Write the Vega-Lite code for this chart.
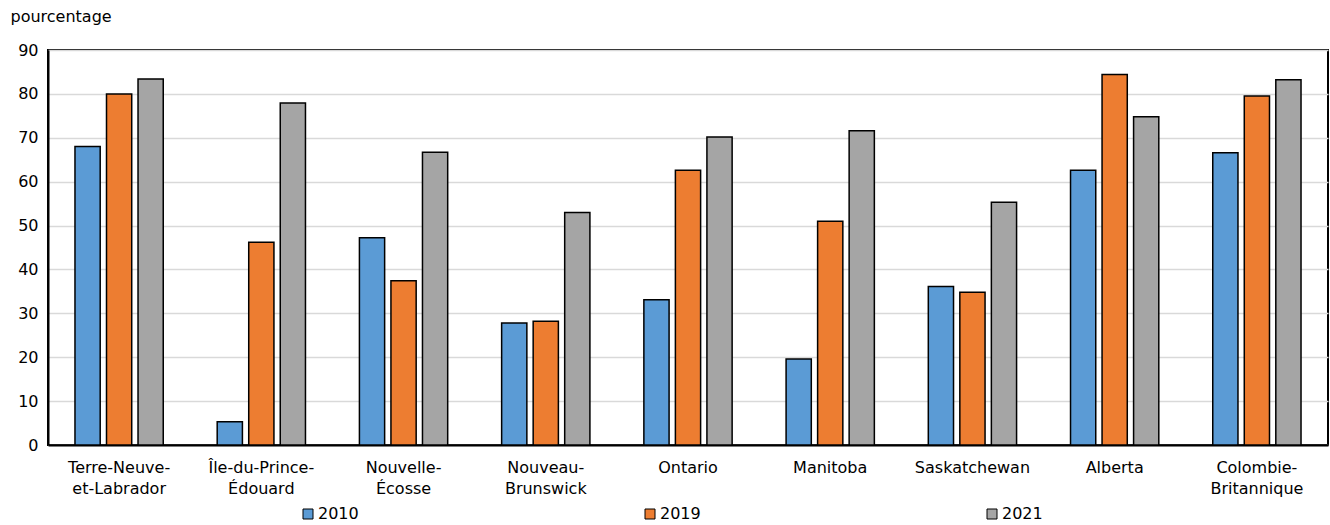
{
  "$schema": "https://vega.github.io/schema/vega-lite/v6.json",
  "width": 1280,
  "height": 395,
  "autosize": {"type": "none"},
  "padding": {"left": 48, "top": 50, "right": 2, "bottom": 80},
  "background": "white",
  "config": {
    "font": "DejaVu Sans",
    "view": {"stroke": "black", "strokeWidth": 2},
    "axis": {"labelFont": "DejaVu Sans", "labelFontSize": 16, "labelColor": "black", "titleFont": "DejaVu Sans"}
  },
  "data": {
    "values": [
      {"province": "Terre-Neuve-et-Labrador", "annee": "2010", "pct": 68.0},
      {"province": "Terre-Neuve-et-Labrador", "annee": "2019", "pct": 80.0},
      {"province": "Terre-Neuve-et-Labrador", "annee": "2021", "pct": 83.4},
      {"province": "Île-du-Prince-Édouard", "annee": "2010", "pct": 5.3},
      {"province": "Île-du-Prince-Édouard", "annee": "2019", "pct": 46.2},
      {"province": "Île-du-Prince-Édouard", "annee": "2021", "pct": 77.9},
      {"province": "Nouvelle-Écosse", "annee": "2010", "pct": 47.2},
      {"province": "Nouvelle-Écosse", "annee": "2019", "pct": 37.4},
      {"province": "Nouvelle-Écosse", "annee": "2021", "pct": 66.7},
      {"province": "Nouveau-Brunswick", "annee": "2010", "pct": 27.8},
      {"province": "Nouveau-Brunswick", "annee": "2019", "pct": 28.2},
      {"province": "Nouveau-Brunswick", "annee": "2021", "pct": 53.0},
      {"province": "Ontario", "annee": "2010", "pct": 33.1},
      {"province": "Ontario", "annee": "2019", "pct": 62.6},
      {"province": "Ontario", "annee": "2021", "pct": 70.2},
      {"province": "Manitoba", "annee": "2010", "pct": 19.6},
      {"province": "Manitoba", "annee": "2019", "pct": 51.0},
      {"province": "Manitoba", "annee": "2021", "pct": 71.6},
      {"province": "Saskatchewan", "annee": "2010", "pct": 36.1},
      {"province": "Saskatchewan", "annee": "2019", "pct": 34.8},
      {"province": "Saskatchewan", "annee": "2021", "pct": 55.3},
      {"province": "Alberta", "annee": "2010", "pct": 62.6},
      {"province": "Alberta", "annee": "2019", "pct": 84.4},
      {"province": "Alberta", "annee": "2021", "pct": 74.8},
      {"province": "Colombie-Britannique", "annee": "2010", "pct": 66.6},
      {"province": "Colombie-Britannique", "annee": "2019", "pct": 79.5},
      {"province": "Colombie-Britannique", "annee": "2021", "pct": 83.2}
    ]
  },
  "mark": {"type": "bar", "stroke": "black", "strokeWidth": 1.5},
  "encoding": {
    "x": {
      "field": "province",
      "type": "nominal",
      "sort": null,
      "scale": {"paddingInner": 0.335, "paddingOuter": 0.1675},
      "axis": {
        "title": null,
        "labelAngle": 0,
        "ticks": false,
        "domain": true,
        "domainColor": "black",
        "domainWidth": 2,
        "labelFontSize": 16,
        "labelPadding": 14,
        "labelLineHeight": 21,
        "labelBaseline": "top",
        "labelExpr": "datum.label == 'Terre-Neuve-et-Labrador' ? ['Terre-Neuve-', 'et-Labrador'] : (indexof(datum.label, '-') < 0 ? datum.label : [substring(datum.label, 0, lastindexof(datum.label, '-') + 1), substring(datum.label, lastindexof(datum.label, '-') + 1)])"
      }
    },
    "xOffset": {
      "field": "annee",
      "type": "nominal",
      "scale": {"paddingInner": 0.2, "paddingOuter": 0.1}
    },
    "y": {
      "field": "pct",
      "type": "quantitative",
      "scale": {"domain": [0, 90], "nice": false},
      "axis": {
        "title": "pourcentage",
        "titleAngle": 0,
        "titleAlign": "left",
        "titleBaseline": "middle",
        "titleFontSize": 16,
        "titleFontWeight": "normal",
        "titleColor": "black",
        "titleX": -38,
        "titleY": -34,
        "values": [0, 10, 20, 30, 40, 50, 60, 70, 80, 90],
        "ticks": false,
        "labelFontSize": 16,
        "labelPadding": 10,
        "domainColor": "black",
        "domainWidth": 2,
        "gridColor": "#d9d9d9",
        "gridWidth": 1.5
      }
    },
    "fill": {
      "field": "annee",
      "type": "nominal",
      "scale": {"domain": ["2010", "2019", "2021"], "range": ["#5B9BD5", "#ED7D31", "#A5A5A5"]},
      "legend": {
        "title": null,
        "orient": "none",
        "direction": "horizontal",
        "columns": 3,
        "legendX": 252,
        "legendY": 456,
        "symbolType": "square",
        "symbolSize": 100,
        "symbolStrokeColor": "black",
        "symbolStrokeWidth": 1,
        "labelFontSize": 16,
        "labelColor": "black",
        "labelOffset": 2,
        "columnPadding": 283
      }
    }
  }
}
